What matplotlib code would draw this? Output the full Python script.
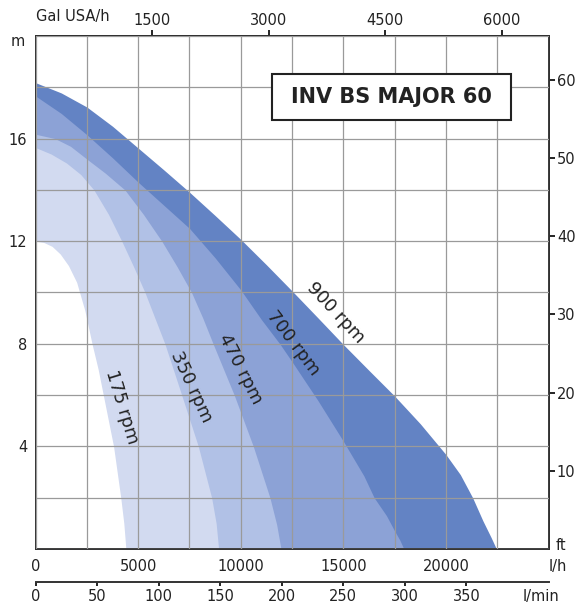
import numpy as np
import matplotlib
matplotlib.use('Agg')
import matplotlib.pyplot as plt
from matplotlib.patches import Rectangle

# flow in l/h, head in m
q900 = [0, 1250, 2500, 3750, 5000, 6250, 7500, 8750, 10000, 11250, 12500, 13750,
        15000, 16250, 17500, 18750, 20000, 20700, 21300, 21800, 22200, 22460]
h900 = [18.18, 17.78, 17.23, 16.48, 15.63, 14.78, 13.91, 13.0, 12.07, 11.08, 10.06, 9.02,
        7.97, 6.96, 5.96, 4.88, 3.68, 2.9, 2.0, 1.1, 0.45, 0]

q700 = [0, 1250, 2500, 3750, 5000, 6250, 7500, 8750, 10000, 11000, 11900, 12500,
        13750, 15000, 16000, 16500, 17100, 17500, 17750, 17950]
h700 = [17.66, 16.98, 16.15, 15.25, 14.3, 13.4, 12.5, 11.35, 10.1, 8.95, 8.0, 7.3,
        5.8, 4.2, 2.85, 2.0, 1.3, 0.7, 0.35, 0]

q470 = [0, 950, 1700, 2500, 3400, 4350, 5250, 6150, 6900, 7600, 8150, 8650,
        9680, 10610, 11420, 11750, 11960]
h470 = [16.17, 16.0, 15.7, 15.2, 14.65, 14.0, 13.05, 12.0, 11.0, 10.0, 9.0, 8.0,
        6.0, 4.0, 2.0, 0.95, 0]

q350 = [0, 750, 1500, 2200, 2840, 3550, 4200, 4780, 5330, 6300, 7120, 7930, 8580, 8800, 8920]
h350 = [15.65, 15.4, 15.05, 14.6, 14.0, 13.05, 12.0, 11.0, 10.0, 8.0, 6.0, 4.0, 2.0, 1.0, 0]

q175 = [0, 400, 800, 1200, 1600, 2000, 2400, 2750, 3050, 3300, 3800, 4150, 4300, 4400]
h175 = [12.0, 11.95, 11.8, 11.5, 11.05, 10.4, 9.3, 8.0, 7.0, 6.0, 4.0, 2.0, 1.0, 0]

curves = [(q900, h900), (q700, h700), (q470, h470), (q350, h350), (q175, h175)]
colors = ['#6383c4', '#8ca2d6', '#b1c1e6', '#d2daf0', 'white']

rpm_labels = ['900 rpm', '700 rpm', '470 rpm', '350 rpm', '175 rpm']
label_q = [14640, 12540, 9960, 7570, 4210]
label_h = [9.2, 8.03, 7.02, 6.32, 5.54]
label_rot = [-47, -53, -63, -65, -73]

lh_ticks = np.arange(0, 25001, 2500)
lh_labels = ['0', '', '5000', '', '10000', '', '15000', '', '20000', '', '']
m_ticks = np.arange(0, 21, 2)
m_labels = ['', '', '4', '', '8', '', '12', '', '16', '', '']
gal_ticks = [1500, 3000, 4500, 6000]
ft_ticks = [10, 20, 30, 40, 50, 60]
lmin_ticks = [0, 50, 100, 150, 200, 250, 300, 350]

txt = '#222222'
plt.rcParams['font.family'] = 'DejaVu Sans'

fig = plt.figure(figsize=(5.76, 6.03), dpi=100)
ax = fig.add_axes([0.0618, 0.0896, 0.8905, 0.8507])
ax.set_xlim(0, 25000)
ax.set_ylim(0, 20)

for (q, h), c in zip(curves, colors):
    ax.fill_between(q, h, 0, color=c, lw=0, zorder=1)

ax.set_xticks(lh_ticks, labels=lh_labels)
ax.set_yticks(m_ticks, labels=m_labels)
ax.tick_params(axis='x', length=0, pad=7, labelsize=10.5, labelcolor=txt)
ax.tick_params(axis='y', length=0, pad=6, labelsize=10.5, labelcolor=txt)
ax.grid(True, color='#9a9a9a', lw=0.9)
ax.set_axisbelow(False)
for s in ax.spines.values():
    s.set_color('#333333')
    s.set_linewidth(1.4)

top = ax.secondary_xaxis('top', functions=(lambda x: x / 3.78541, lambda g: g * 3.78541))
top.set_xticks(gal_ticks)
top.tick_params(direction='out', length=4, width=1.2, pad=2, labelsize=10.5, labelcolor=txt)
top.spines['top'].set_linewidth(1.4)

right = ax.secondary_yaxis('right', functions=(lambda m: m * 3.28084, lambda f: f / 3.28084))
right.set_yticks(ft_ticks)
right.tick_params(direction='out', length=4, width=1.2, pad=2, labelsize=10.5, labelcolor=txt)
right.spines['right'].set_linewidth(1.4)

lmin = ax.secondary_xaxis(-0.064, functions=(lambda x: x / 60.0, lambda v: v * 60.0))
lmin.set_xticks(lmin_ticks)
lmin.tick_params(direction='out', length=3, width=1.2, pad=2, labelsize=10.5, labelcolor=txt)
lmin.spines['bottom'].set_linewidth(1.4)
lmin.spines['bottom'].set_color('#333333')

for lab, q, h, r in zip(rpm_labels, label_q, label_h, label_rot):
    ax.text(q, h, lab, rotation=r, rotation_mode='anchor', ha='center', va='center',
            fontsize=13, color=txt, zorder=4)

ax.add_patch(Rectangle((0.461, 0.836), 0.466, 0.09, transform=ax.transAxes,
                       fc='white', ec='#222222', lw=1.5, zorder=5))
ax.text(0.694, 0.881, 'INV BS MAJOR 60', transform=ax.transAxes, ha='center', va='center',
        fontsize=15, fontweight='bold', color=txt, zorder=6)

W, H = 576, 603
fig.text(18 / W, 1 - 42 / H, 'm', ha='center', va='center', fontsize=10.5, color=txt)
fig.text(73 / W, 1 - 17 / H, 'Gal USA/h', ha='center', va='center', fontsize=10.5, color=txt)
fig.text(558 / W, 1 - 566 / H, 'l/h', ha='center', va='center', fontsize=10.5, color=txt)
fig.text(541 / W, 1 - 596 / H, 'l/min', ha='center', va='center', fontsize=10.5, color=txt)
fig.text(561 / W, 1 - 545 / H, 'ft', ha='center', va='center', fontsize=10.5, color=txt)

fig.savefig('out.png', dpi=100)
